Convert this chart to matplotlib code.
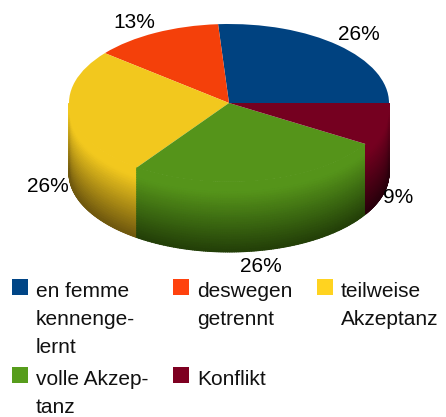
import numpy as np
import matplotlib
matplotlib.use('Agg')
import matplotlib.pyplot as plt
from matplotlib.colors import LinearSegmentedColormap
from matplotlib.patches import Rectangle
from matplotlib.transforms import Affine2D

# answer counts, the percentages come out of these
labels = ['en femme\nkennenge-\nlernt', 'deswegen\ngetrennt', 'teilweise\nAkzeptanz',
          'volle Akzep-\ntanz', 'Konflikt']
counts = [6, 3, 6, 6, 2]

top_colors = ['#004280', '#f4400a', '#f2c81e', '#55941a', '#750020']
dark_colors = ['#001a33', '#5c1804', '#6f580e', '#233f08', '#2a000c']
legend_colors = ['#004586', '#ff420e', '#ffd320', '#579d1c', '#7e0021']

plt.rcParams['font.family'] = ['Liberation Sans', 'DejaVu Sans']

W, H = 446, 417
fig = plt.figure(figsize=(W / 100, H / 100), dpi=100)
ax = fig.add_axes([0, 0, 1, 1])

# pie geometry in pixels, y measured from the top of the image
cx, cy = 229, 103
rx, ry = 160, 79
depth = 70


def py(y):
    return H - y


# side wall, only the front half (180 to 360 deg) can be seen
edges = np.concatenate([[0], np.cumsum(counts)]) / sum(counts) * 360
t = np.linspace(0, 1, 30)
for i in range(len(counts)):
    a = max(edges[i], 180)
    b = edges[i + 1]
    if b <= a:
        continue
    theta = np.radians(np.linspace(a, b, 120))
    X = np.tile(cx + rx * np.cos(theta), (len(t), 1))
    ytop = cy - ry * np.sin(theta)
    Y = py(np.outer(t * depth, np.ones_like(theta)) + ytop)
    T = np.outer(t, np.ones_like(theta))
    cmap = LinearSegmentedColormap.from_list(
        'side', [(0, top_colors[i]), (0.15, top_colors[i]), (1, dark_colors[i])])
    ax.pcolormesh(X, Y, T, cmap=cmap, shading='gouraud', vmin=0, vmax=1, zorder=1)

# top face: normal pie, squashed into the ellipse afterwards
wedges, _ = ax.pie(counts, colors=top_colors, startangle=0, counterclock=True,
                   center=(cx, py(cy)), radius=rx, frame=True)
squash = Affine2D().translate(-cx, -py(cy)).scale(1, ry / rx).translate(cx, py(cy))
for w in wedges:
    w.set_transform(squash + ax.transData)
    w.set_zorder(2)

ax.set_aspect('auto')
ax.set_xlim(0, W)
ax.set_ylim(0, H)
ax.axis('off')

# percent labels, y is the baseline
label_pos = [(359, 40), (134, 28), (48, 192), (261, 272), (398, 203)]
for v, (x, y) in zip(counts, label_pos):
    ax.text(x, py(y), '%.0f%%' % (v / sum(counts) * 100), fontsize=15,
            ha='center', va='baseline', color='black', zorder=3)

# legend, drawn by hand because of the wrapped entries
swatch_pos = [(12, 279), (173, 279), (317, 279), (12, 367), (173, 367)]
for lab, col, (x, y) in zip(labels, legend_colors, swatch_pos):
    ax.add_patch(Rectangle((x, py(y + 16)), 16, 16, facecolor=col, edgecolor='none', zorder=3))
    for j, line in enumerate(lab.split('\n')):
        ax.text(x + 24, py(y + 18 + j * 28), line, fontsize=15, ha='left', va='baseline',
                color='#111111', zorder=3)

fig.savefig('out.png', dpi=100)
